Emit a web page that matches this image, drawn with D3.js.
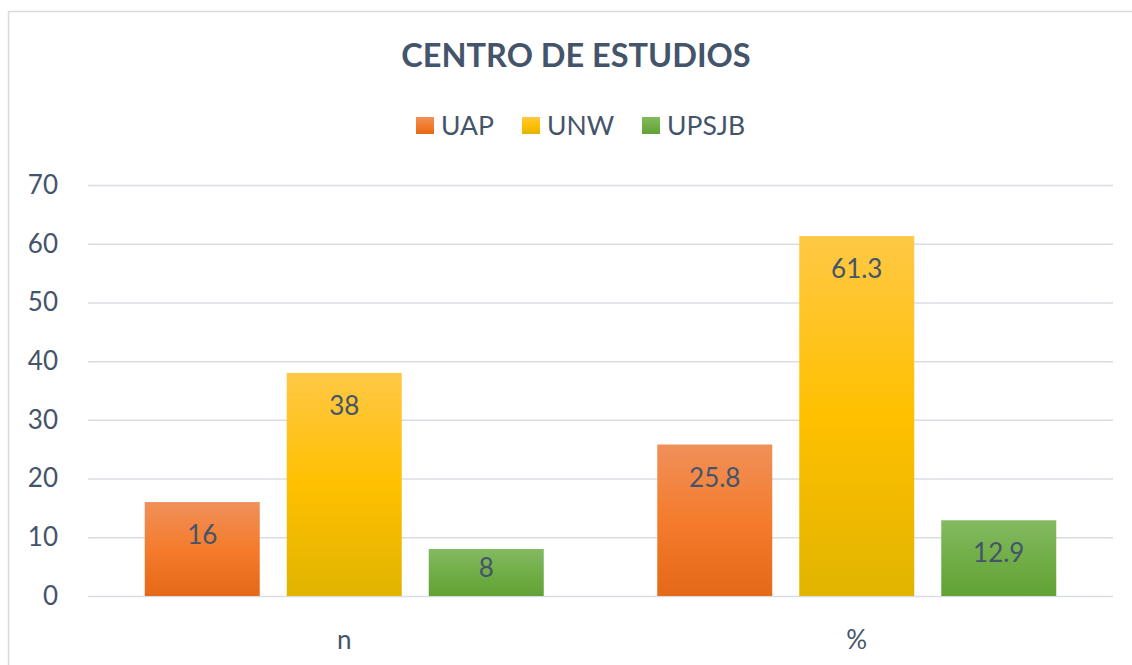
<!DOCTYPE html>
<html><head><meta charset="utf-8">
<script src="https://cdn.jsdelivr.net/npm/d3@7"></script>
<style>html,body{margin:0;padding:0;background:#fff;}svg{display:block;}</style>
</head><body>
<svg id="c" width="1132" height="665"></svg>
<script>
const categories = ["n", "%"];
const seriesNames = ["UAP", "UNW", "UPSJB"];
const uapValues = [16, 25.8];
const unwValues = [38, 61.3];
const upsjbValues = [8, 12.9];
const yTicks = [0, 10, 20, 30, 40, 50, 60, 70];
const title = "CENTRO DE ESTUDIOS";

const seriesValues = [uapValues, unwValues, upsjbValues];
const grads = [
  ["#F0905A", "#F47C2C", "#E46918"],
  ["#FFC845", "#FFC000", "#E1B400"],
  ["#84BA62", "#71AE47", "#61A235"]
];
const font = "Lato, 'Open Sans', sans-serif";
const txt = "#44546A";

const svg = d3.select("#c");
svg.append("rect").attr("x", 8.5).attr("y", 11.5).attr("width", 1135).attr("height", 670)
  .attr("fill", "#fff").attr("stroke", "#D9D9D9").attr("stroke-width", 1.5);

const defs = svg.append("defs");
grads.forEach((g, i) => {
  const lg = defs.append("linearGradient").attr("id", "g" + i).attr("x1", 0).attr("y1", 0).attr("x2", 0).attr("y2", 1);
  lg.append("stop").attr("offset", "0%").attr("stop-color", g[0]);
  lg.append("stop").attr("offset", "50%").attr("stop-color", g[1]);
  lg.append("stop").attr("offset", "100%").attr("stop-color", g[2]);
});

const y = d3.scaleLinear().domain([0, 70]).range([596, 185]);
const x0 = d3.scaleBand().domain(categories).range([88, 1113]).paddingInner(0).paddingOuter(0);
const groupW = 399;
const x1 = d3.scaleBand().domain(seriesNames).range([0, groupW]).paddingInner(27 / 142).paddingOuter(0);

// gridlines
const yAxis = d3.axisLeft(y).tickValues(yTicks).tickSize(-1025).tickFormat(d3.format("d"));
const ga = svg.append("g").attr("transform", "translate(88,0)").call(yAxis);
ga.select(".domain").remove();
ga.selectAll(".tick line").attr("stroke", "#D9DDE3").attr("stroke-width", 1.5);
ga.selectAll(".tick text").attr("x", -30).attr("fill", txt).attr("font-family", font).attr("font-size", 26);

// bars
const groups = svg.append("g").selectAll("g").data(categories).join("g")
  .attr("transform", c => `translate(${x0(c) + (x0.bandwidth() - groupW) / 2},0)`);
seriesNames.forEach((s, si) => {
  groups.append("rect")
    .attr("x", x1(s)).attr("width", x1.bandwidth())
    .attr("y", (c, ci) => y(seriesValues[si][ci]))
    .attr("height", (c, ci) => y(0) - y(seriesValues[si][ci]))
    .attr("fill", `url(#g${si})`);
  groups.append("text")
    .attr("x", x1(s) + x1.bandwidth() / 2)
    .attr("y", (c, ci) => Math.min(y(seriesValues[si][ci]) + 42, y(0) - 19))
    .attr("text-anchor", "middle").attr("fill", txt)
    .attr("font-family", font).attr("font-size", 26)
    .text((c, ci) => seriesValues[si][ci]);
});

// x labels
const xAxis = d3.axisBottom(x0).tickSize(0);
const gx = svg.append("g").attr("transform", "translate(0,596)").call(xAxis);
gx.select(".domain").remove();
gx.selectAll(".tick text").attr("y", 53).attr("dy", 0).attr("fill", txt).attr("font-family", font).attr("font-size", 26);

// title
svg.append("text").attr("x", 576).attr("y", 67).attr("text-anchor", "middle")
  .attr("fill", txt).attr("font-family", font).attr("font-weight", "bold").attr("font-size", 32.5).text(title);

// legend
const legX = [416, 522, 642];
const leg = svg.append("g");
seriesNames.forEach((s, i) => {
  leg.append("rect").attr("x", legX[i]).attr("y", 117).attr("width", 18).attr("height", 17).attr("fill", `url(#g${i})`);
  leg.append("text").attr("x", legX[i] + 25).attr("y", 135).attr("fill", txt)
    .attr("font-family", font).attr("font-size", 26.5).text(s);
});
</script>
</body></html>
